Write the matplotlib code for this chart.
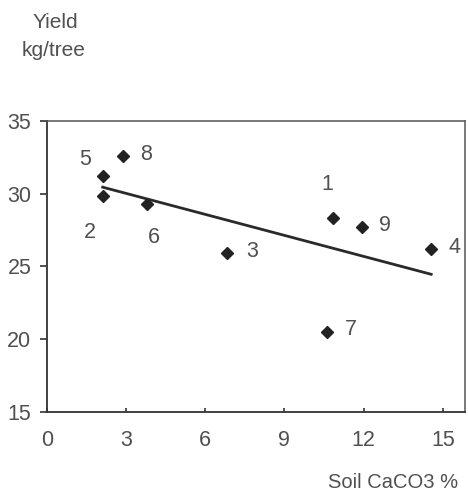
import numpy as np
import matplotlib
matplotlib.use('Agg')
import matplotlib.pyplot as plt

plt.rcParams['font.family'] = ['Liberation Sans', 'DejaVu Sans']

# tree number, soil CaCO3 (%), yield (kg/tree)
tree_ids = ['1', '2', '3', '4', '5', '6', '7', '8', '9']
caco3 = [10.83, 2.12, 6.82, 14.56, 2.14, 3.79, 10.63, 2.88, 11.93]
yield_kg = [28.3, 29.8, 25.9, 26.2, 31.2, 29.3, 20.5, 32.6, 27.7]

x_ticks = [0, 3, 6, 9, 12, 15]
y_ticks = [15, 20, 25, 30, 35]

# label offsets in points (where each number sits next to its marker)
label_offsets = [(-4, 24), (-9, -26), (18, 1), (17, 1), (-13, 12),
                 (5, -24), (17, 2), (17, 1), (17, 1)]

txt = '#505050'
fig = plt.figure(figsize=(4.68, 4.93), dpi=100)
ax = fig.add_axes([0.0998, 0.1643, 0.8938, 0.5909])

ax.plot(caco3, yield_kg, 'D', color='#222222', markersize=6, zorder=3)

# linear trend line fitted from the data
slope, icpt = np.polyfit(caco3, yield_kg, 1)
xs = np.array([min(caco3), max(caco3)])
ax.plot(xs, slope * xs + icpt, color='#2a2a2a', lw=2.0, zorder=2)

for name, x, y, off in zip(tree_ids, caco3, yield_kg, label_offsets):
    ax.annotate(name, (x, y), xytext=off, textcoords='offset points',
                ha='center', va='center', fontsize=15.5, color=txt)

ax.set_xlim(0, 15.84)
ax.set_ylim(15, 35)
ax.set_xticks(x_ticks)
ax.set_yticks(y_ticks)
ax.tick_params(axis='x', direction='in', length=3, width=1.2, pad=13,
               labelsize=15.5, labelcolor=txt, colors='#333333')
ax.tick_params(axis='y', direction='out', length=5, width=1.2, pad=6,
               labelsize=15.5, labelcolor=txt, colors='#333333')
for side in ['left', 'bottom']:
    ax.spines[side].set_color('#333333')
    ax.spines[side].set_linewidth(1.3)
for side in ['top', 'right']:
    ax.spines[side].set_color('#555555')
    ax.spines[side].set_linewidth(1.1)

fig.text(55 / 468, 1 - 23 / 493, 'Yield', ha='center', va='center',
         fontsize=15, color=txt)
fig.text(53.5 / 468, 1 - 50 / 493, 'kg/tree', ha='center', va='center',
         fontsize=15, color=txt)
fig.text(458 / 468, 1 - 483 / 493, 'Soil CaCO3 %', ha='right', va='center',
         fontsize=14.5, color=txt)

fig.savefig('out.png', dpi=100, facecolor='white')
